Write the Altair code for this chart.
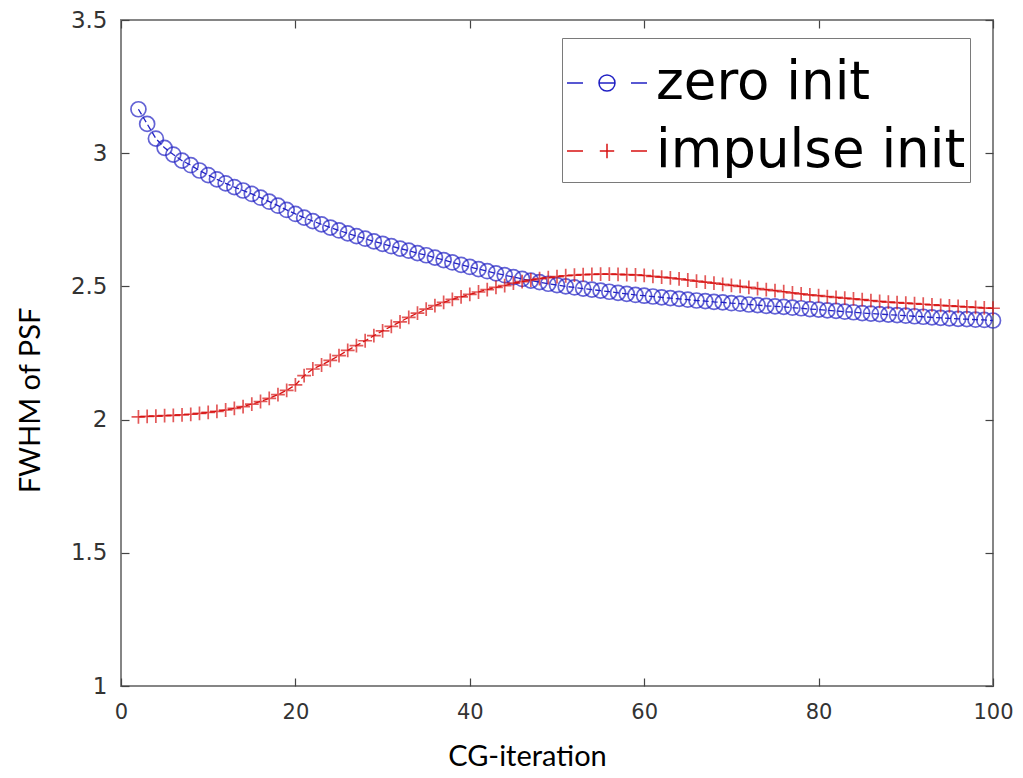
import altair as alt
import pandas as pd

# ---------------- data ----------------
iterations = list(range(2, 101))

zero_init = [
    3.165, 3.110, 3.055, 3.020, 2.995, 2.972, 2.955, 2.935, 2.918,
    2.902, 2.887, 2.873, 2.860, 2.847, 2.833, 2.818, 2.803, 2.787, 2.772,
    2.758, 2.745, 2.733, 2.721, 2.710, 2.699, 2.689, 2.679, 2.669, 2.660,
    2.651, 2.642, 2.634, 2.625, 2.617, 2.608, 2.599, 2.590, 2.581, 2.573,
    2.565, 2.557, 2.549, 2.542, 2.535, 2.528, 2.522, 2.516, 2.510, 2.505,
    2.500, 2.496, 2.492, 2.488, 2.484, 2.480, 2.476, 2.472, 2.468, 2.465,
    2.462, 2.459, 2.456, 2.453, 2.450, 2.447, 2.445, 2.442, 2.440, 2.437,
    2.435, 2.432, 2.430, 2.427, 2.425, 2.423, 2.420, 2.418, 2.415, 2.413,
    2.410, 2.408, 2.405, 2.403, 2.400, 2.398, 2.396, 2.394, 2.392, 2.390,
    2.388, 2.386, 2.384, 2.382, 2.380, 2.378, 2.377, 2.375, 2.374, 2.372,
]

impulse_init = [
    2.010, 2.012, 2.013, 2.015, 2.016, 2.018, 2.020, 2.023, 2.027,
    2.031, 2.036, 2.042, 2.049, 2.058, 2.068, 2.080, 2.094, 2.110, 2.130,
    2.165, 2.190, 2.205, 2.222, 2.240, 2.260, 2.278, 2.296, 2.315, 2.333,
    2.350, 2.367, 2.384, 2.400, 2.415, 2.428, 2.440, 2.451, 2.461, 2.470,
    2.479, 2.488, 2.496, 2.503, 2.512, 2.518, 2.524, 2.529, 2.533, 2.537,
    2.540, 2.542, 2.544, 2.545, 2.546, 2.546, 2.545, 2.544, 2.543, 2.541,
    2.538, 2.535, 2.532, 2.528, 2.524, 2.520, 2.516, 2.512, 2.508, 2.504,
    2.500, 2.496, 2.492, 2.488, 2.484, 2.480, 2.476, 2.472, 2.468, 2.465,
    2.462, 2.459, 2.456, 2.453, 2.450, 2.447, 2.444, 2.441, 2.439, 2.437,
    2.435, 2.433, 2.431, 2.429, 2.427, 2.425, 2.423, 2.421, 2.419, 2.418,
]

series_names = ["zero init", "impulse init"]
series_colors = ["#2222c4", "#d81212"]
x_ticks = [0, 20, 40, 60, 80, 100]
y_ticks = [1, 1.5, 2, 2.5, 3, 3.5]
x_label = "CG-iteration"
y_label = "FWHM of PSF"

rows = []
for it, v in zip(iterations, zero_init):
    rows.append({"iter": it, "fwhm": v, "series": series_names[0]})
for it, v in zip(iterations, impulse_init):
    rows.append({"iter": it, "fwhm": v, "series": series_names[1]})
df = pd.DataFrame(rows)

# ---------------- styling ----------------
PLUS = "M-1,0H1M0,-1V1"
LEG_CIRCLE = ("M-1,0H-0.6M-0.2,0H0.2M-0.2,0A0.2,0.2,0,1,1,0.2,0"
              "A0.2,0.2,0,1,1,-0.2,0M0.6,0H1")
LEG_PLUS = "M-1,0H-0.6M-0.18,0H0.18M0,-0.18V0.18M0.6,0H1"

x_scale = alt.Scale(domain=[0, 100], nice=False)
y_scale = alt.Scale(domain=[1, 3.5], nice=False, zero=False)
color_scale = alt.Scale(domain=series_names, range=series_colors)

tick_common = dict(
    domain=False, grid=False, tickSize=8, tickColor="#444444", tickWidth=1.2,
    offset=-8, labelFlush=False, labelOverlap=False, labelBound=False,
)

x_axis_bottom = alt.Axis(
    values=x_ticks, labelFont="DejaVu Sans", labelFontSize=21, labelColor="#333333",
    labelPadding=15, title=x_label, titleFont="Lato", titleFontSize=29,
    titleFontWeight="normal", titleColor="black", titleX=406, titleY=78,
    titleAlign="center", titleBaseline="middle", **tick_common,
)
y_axis_left = alt.Axis(
    values=y_ticks, format="~g", labelFont="DejaVu Sans", labelFontSize=23,
    labelColor="#333333", labelPadding=14, title=y_label, titleFont="Lato",
    titleFontSize=29, titleFontWeight="normal", titleColor="black",
    titleX=-99, titleY=380, titleAngle=270, titleAlign="center",
    titleBaseline="middle", **tick_common,
)
x_axis_top = alt.Axis(orient="top", values=x_ticks, labels=False, title=None, **tick_common)
y_axis_right = alt.Axis(orient="right", values=y_ticks, labels=False, title=None, **tick_common)

base = alt.Chart(df)


def line_layer(name, colour, axes):
    return base.transform_filter(alt.datum.series == name).mark_line(
        strokeWidth=1.3, color=colour, strokeDash=[6, 3]
    ).encode(
        x=alt.X("iter:Q", scale=x_scale, axis=x_axis_bottom if axes else None),
        y=alt.Y("fwhm:Q", scale=y_scale, axis=y_axis_left if axes else None),
    )


line_zero = line_layer(series_names[0], series_colors[0], True)
line_imp = line_layer(series_names[1], series_colors[1], False)

circles = base.transform_filter(alt.datum.series == series_names[0]).mark_point(
    shape="circle", filled=False, size=225, strokeWidth=1.7, color=series_colors[0]
).encode(
    x=alt.X("iter:Q", scale=x_scale, axis=None),
    y=alt.Y("fwhm:Q", scale=y_scale, axis=None),
)

pluses = base.transform_filter(alt.datum.series == series_names[1]).mark_point(
    shape=PLUS, filled=False, size=190, strokeWidth=1.7, color=series_colors[1]
).encode(
    x=alt.X("iter:Q", scale=x_scale, axis=None),
    y=alt.Y("fwhm:Q", scale=y_scale, axis=None),
)

legend_def = alt.Legend(
    title=None, orient="none", legendX=441, legendY=18,
    labelFont="DejaVu Sans", labelFontSize=53, labelColor="black", labelLimit=0,
    labelOffset=8, symbolSize=6400, symbolStrokeWidth=1.5, symbolOpacity=1,
    fillColor="white", strokeColor="#7a7a7a", padding=4, rowPadding=-8,
)

legend_layer = base.mark_point(size=0, filled=False).encode(
    x=alt.X("iter:Q", scale=x_scale, axis=x_axis_top),
    y=alt.Y("fwhm:Q", scale=y_scale, axis=y_axis_right),
    color=alt.Color("series:N", scale=color_scale, legend=legend_def),
    shape=alt.Shape("series:N", scale=alt.Scale(domain=series_names, range=[LEG_CIRCLE, LEG_PLUS]),
                    legend=legend_def),
)

chart = alt.layer(line_zero, circles, line_imp, pluses, legend_layer).resolve_axis(
    x="independent", y="independent"
).properties(
    width=872, height=666,
    background="white",
    autosize=alt.AutoSizeParams(type="none"),
    padding={"left": 113, "top": 12, "right": 22, "bottom": 84},
).configure_view(
    stroke="#858585", strokeWidth=2
)

chart.save("out.html", embed_options={"renderer": "svg", "actions": False})
